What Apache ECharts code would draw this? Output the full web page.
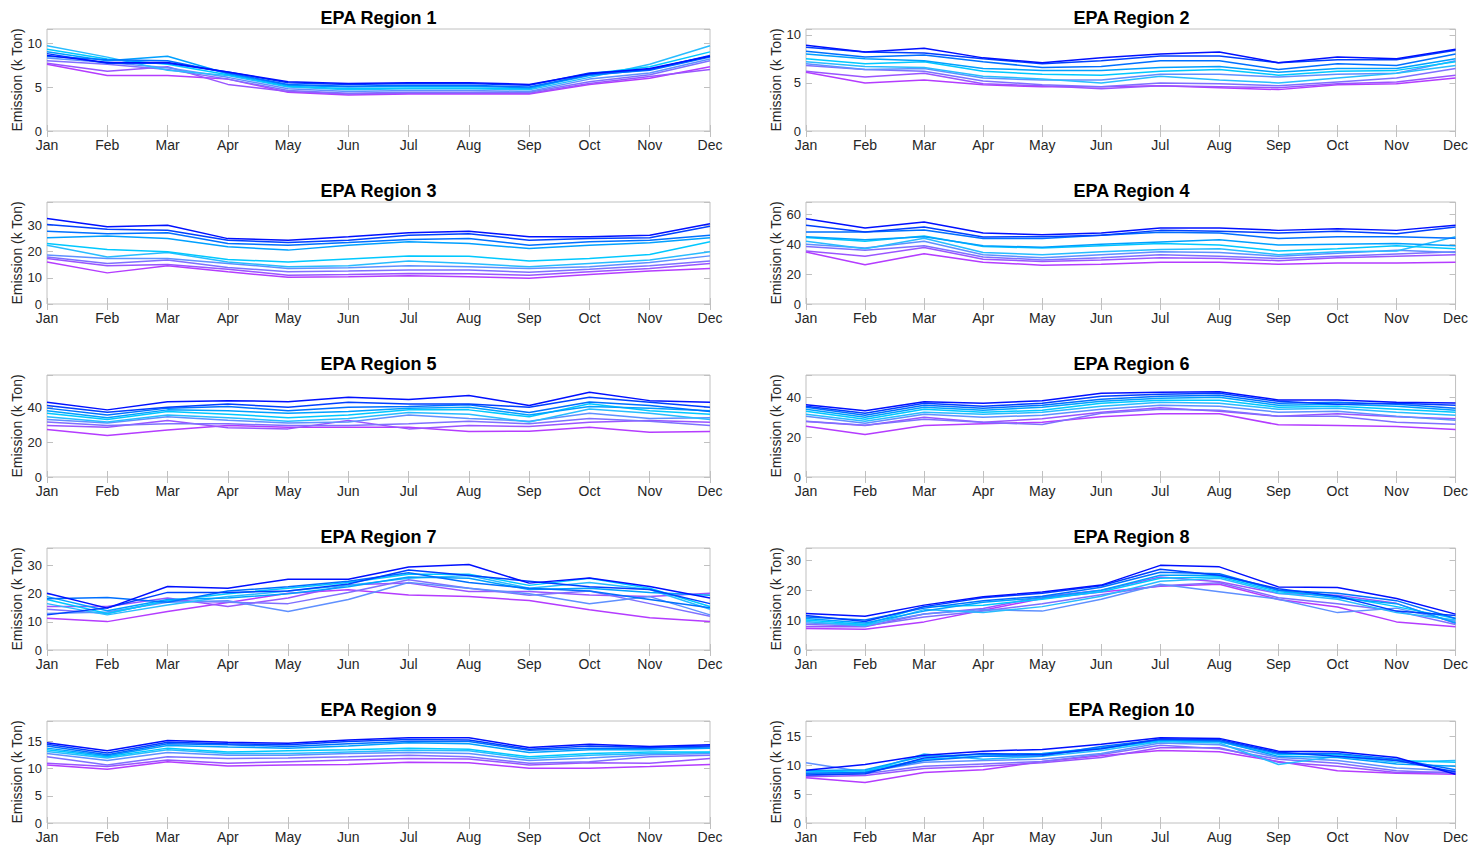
<!DOCTYPE html>
<html>
<head>
<meta charset="utf-8">
<script src="https://cdn.jsdelivr.net/npm/echarts@6/dist/echarts.min.js"></script>
<style>
html,body{margin:0;padding:0;background:#fff;}
#chart{width:1471px;height:845px;}
</style>
</head>
<body>
<div id="chart"></div>
<script>
const months = ['Jan','Feb','Mar','Apr','May','Jun','Jul','Aug','Sep','Oct','Nov','Dec'];
const regionTitles = ['EPA Region 1','EPA Region 2','EPA Region 3','EPA Region 4','EPA Region 5',
  'EPA Region 6','EPA Region 7','EPA Region 8','EPA Region 9','EPA Region 10'];
const yAxisName = 'Emission (k Ton)';
const yMax = [11.6, 10.6, 39, 68.3, 58.5, 51.2, 36.3, 34.1, 18.8, 17.6];
const yStep = [5, 5, 10, 20, 20, 20, 10, 10, 5, 5];
// line colours, from the purple end to the blue end of the palette
const lineColors = ['#b43cff','#9a55ff','#7f70ff','#5f90ff','#28bcff','#00c8ff','#00a0ff','#0070ff','#0040ff','#0010ff'];

const region1 = [
  [7.6, 6.3, 6.3, 5.9, 4.4, 4.1, 4.2, 4.2, 4.2, 5.3, 6.0, 7.3],
  [7.7, 6.8, 7.3, 5.3, 4.5, 4.2, 4.3, 4.3, 4.3, 5.4, 6.2, 7.0],
  [8.0, 7.6, 7.0, 5.9, 4.6, 4.3, 4.4, 4.4, 4.4, 5.6, 6.4, 8.0],
  [8.3, 7.8, 7.2, 6.1, 4.8, 4.5, 4.6, 4.6, 4.5, 5.9, 6.6, 8.2],
  [9.7, 8.4, 6.9, 6.3, 5.0, 4.7, 4.8, 4.8, 4.7, 6.1, 7.6, 9.7],
  [9.3, 8.2, 7.6, 6.4, 5.1, 4.8, 4.9, 4.9, 4.8, 6.5, 7.3, 9.0],
  [9.0, 8.0, 8.5, 6.5, 5.2, 5.0, 5.1, 5.1, 4.9, 6.3, 7.0, 8.5],
  [8.5, 8.1, 8.0, 6.6, 5.3, 5.1, 5.2, 5.2, 5.0, 6.4, 6.9, 8.4],
  [8.8, 7.7, 7.7, 6.7, 5.5, 5.3, 5.4, 5.4, 5.2, 6.6, 7.0, 8.6],
  [8.6, 7.8, 7.8, 6.7, 5.6, 5.4, 5.5, 5.5, 5.3, 6.5, 7.1, 8.5]
];
const region2 = [
  [6.1, 5.0, 5.3, 4.8, 4.6, 4.6, 4.7, 4.5, 4.3, 4.8, 4.9, 5.5],
  [6.2, 5.6, 6.0, 4.9, 4.7, 4.4, 4.7, 4.6, 4.5, 4.9, 5.1, 5.8],
  [6.8, 6.4, 6.2, 5.2, 4.8, 4.6, 5.0, 4.9, 4.7, 5.1, 5.5, 6.5],
  [7.0, 6.4, 6.5, 5.5, 5.3, 5.3, 5.9, 5.9, 5.6, 5.9, 6.0, 7.3],
  [7.2, 6.7, 6.6, 5.7, 5.4, 5.0, 5.7, 5.3, 5.0, 5.5, 6.0, 6.8],
  [7.5, 7.0, 7.2, 6.2, 5.9, 5.8, 6.2, 6.4, 5.8, 6.2, 6.3, 7.2],
  [8.0, 7.5, 7.3, 6.5, 6.3, 6.3, 6.6, 6.7, 6.1, 6.5, 6.5, 7.5],
  [8.3, 7.7, 7.9, 7.2, 6.6, 6.7, 7.3, 7.3, 6.4, 7.0, 6.8, 8.0],
  [8.7, 8.2, 8.1, 7.5, 7.0, 7.3, 7.8, 7.8, 7.1, 7.4, 7.4, 8.4],
  [8.9, 8.2, 8.6, 7.6, 7.1, 7.6, 8.0, 8.2, 7.1, 7.7, 7.5, 8.5]
];
const region3 = [
  [16.1, 11.9, 14.6, 12.3, 10.2, 10.4, 10.8, 10.4, 9.8, 11.3, 12.6, 13.6],
  [17.4, 14.6, 15.1, 13.3, 11.0, 11.3, 11.7, 11.6, 11.0, 12.3, 13.6, 15.5],
  [18.0, 15.5, 16.8, 14.0, 12.3, 12.6, 13.0, 13.0, 12.1, 13.3, 14.6, 16.4],
  [18.7, 17.4, 17.4, 15.5, 13.6, 13.9, 14.6, 14.2, 13.6, 14.2, 15.9, 18.4],
  [22.5, 18.0, 19.7, 16.1, 14.2, 14.6, 16.4, 15.5, 14.2, 15.5, 16.8, 20.0],
  [23.1, 20.8, 20.0, 17.0, 16.1, 17.2, 18.4, 18.3, 16.4, 17.4, 18.9, 23.8],
  [25.3, 26.0, 25.0, 21.9, 20.6, 22.5, 23.8, 23.1, 21.2, 22.5, 23.4, 25.3],
  [27.8, 26.9, 27.2, 23.1, 22.5, 23.5, 24.7, 25.0, 22.5, 23.8, 24.4, 26.3],
  [30.4, 28.6, 28.2, 24.4, 23.5, 24.4, 26.3, 26.9, 24.4, 25.0, 25.3, 29.7],
  [32.7, 29.5, 30.1, 25.0, 24.4, 25.7, 27.2, 27.8, 25.7, 25.7, 26.3, 30.7]
];
const region4 = [
  [34.8, 26.3, 33.7, 28.0, 26.0, 26.6, 28.0, 28.0, 26.6, 27.5, 27.5, 28.0],
  [35.5, 32.0, 37.9, 30.0, 28.5, 29.5, 31.0, 30.5, 29.0, 31.0, 32.0, 33.0],
  [38.5, 36.0, 39.0, 31.5, 29.5, 31.0, 33.0, 32.0, 30.5, 32.0, 33.5, 35.0],
  [40.0, 37.5, 42.0, 33.0, 31.0, 33.0, 35.0, 34.5, 32.0, 34.0, 36.0, 34.5],
  [42.0, 37.0, 44.0, 34.5, 33.0, 35.0, 36.5, 37.0, 33.0, 35.0, 35.5, 45.0],
  [44.5, 42.0, 45.5, 38.5, 37.5, 39.0, 40.5, 39.5, 35.5, 37.0, 39.0, 37.0],
  [45.0, 43.0, 45.0, 39.0, 38.0, 40.0, 41.5, 43.0, 39.5, 40.0, 40.5, 39.0],
  [48.2, 48.2, 49.5, 43.8, 43.8, 46.0, 48.0, 47.5, 43.8, 45.0, 45.0, 44.0],
  [52.7, 48.2, 51.6, 44.9, 45.0, 46.0, 49.3, 48.7, 47.5, 48.7, 47.0, 51.6],
  [57.1, 50.9, 54.9, 47.5, 46.4, 47.5, 50.9, 50.9, 49.3, 50.4, 49.3, 52.7]
];
const region5 = [
  [27.2, 23.8, 27.0, 29.5, 28.6, 28.6, 28.6, 26.1, 26.3, 28.6, 25.7, 26.1],
  [29.5, 28.6, 32.4, 28.2, 27.6, 32.4, 27.6, 29.5, 29.0, 31.4, 32.4, 31.4],
  [31.5, 29.5, 30.5, 30.5, 29.5, 29.5, 30.5, 32.0, 30.5, 33.5, 32.0, 29.5],
  [33.0, 31.0, 34.5, 32.5, 31.0, 31.5, 35.5, 33.5, 32.0, 36.5, 33.5, 34.0],
  [34.5, 31.5, 35.5, 34.0, 32.0, 33.5, 37.0, 36.0, 31.5, 39.0, 36.5, 33.0],
  [36.5, 33.0, 37.5, 36.0, 34.0, 35.5, 38.5, 38.5, 34.5, 42.0, 38.0, 36.0],
  [38.0, 34.0, 38.5, 38.0, 36.5, 37.5, 39.5, 40.0, 35.5, 40.5, 39.5, 38.0],
  [39.5, 35.5, 39.5, 40.5, 38.0, 40.0, 40.5, 41.5, 37.0, 43.0, 41.0, 37.5],
  [41.0, 37.1, 40.0, 41.9, 40.0, 42.9, 41.9, 41.9, 40.0, 45.7, 42.9, 40.0],
  [42.9, 38.5, 43.2, 43.8, 43.2, 45.7, 44.4, 46.7, 41.0, 48.6, 43.8, 42.9]
];
const region6 = [
  [25.5, 21.3, 25.8, 26.7, 27.5, 30.3, 31.7, 31.7, 26.2, 25.8, 25.3, 23.8],
  [27.8, 25.8, 30.0, 27.5, 29.2, 32.5, 34.7, 33.0, 30.5, 31.7, 30.3, 29.2],
  [28.0, 26.0, 29.0, 27.5, 26.3, 32.0, 34.0, 33.5, 30.5, 30.5, 27.5, 26.5],
  [30.5, 27.0, 31.5, 30.0, 31.0, 34.0, 36.0, 35.5, 32.5, 33.0, 30.5, 28.5],
  [31.5, 28.0, 32.5, 31.5, 32.5, 35.5, 37.5, 37.0, 34.0, 34.5, 32.5, 31.0],
  [33.0, 29.0, 34.0, 32.5, 33.5, 37.0, 38.5, 38.5, 35.0, 35.5, 34.0, 32.5],
  [34.0, 30.0, 35.0, 33.5, 35.0, 38.0, 39.5, 40.0, 36.0, 36.5, 35.5, 33.5],
  [35.0, 31.0, 36.0, 34.5, 36.0, 39.0, 40.5, 41.0, 37.0, 37.5, 36.5, 34.5],
  [35.5, 32.0, 37.0, 35.5, 37.0, 40.5, 41.5, 42.0, 38.0, 36.5, 37.0, 36.0],
  [36.3, 33.3, 37.8, 37.0, 38.3, 42.0, 42.5, 42.8, 38.7, 38.7, 37.5, 37.2]
];
const region7 = [
  [11.3, 10.1, 13.7, 16.9, 20.2, 21.4, 19.6, 19.0, 17.6, 14.3, 11.5, 10.1],
  [15.5, 15.5, 18.5, 15.5, 18.5, 23.2, 23.8, 20.8, 20.8, 19.6, 19.0, 20.2],
  [14.5, 13.0, 17.5, 17.0, 16.5, 20.5, 25.0, 22.0, 19.5, 21.0, 16.5, 12.0],
  [13.0, 13.5, 17.0, 17.5, 13.7, 18.0, 24.0, 22.0, 20.0, 16.5, 19.0, 12.5],
  [16.5, 12.5, 16.0, 19.0, 21.0, 23.0, 25.5, 26.5, 22.0, 24.0, 21.5, 14.5],
  [18.0, 13.0, 17.5, 20.0, 22.0, 24.0, 27.0, 27.0, 23.0, 25.5, 22.0, 15.5],
  [19.0, 14.0, 18.0, 18.5, 20.0, 22.5, 26.0, 25.5, 21.5, 22.0, 20.5, 19.5],
  [18.2, 18.7, 17.0, 21.0, 22.5, 24.5, 27.5, 24.0, 22.0, 21.0, 18.0, 15.0],
  [12.5, 15.0, 20.5, 20.5, 21.0, 23.5, 28.5, 26.5, 24.5, 22.5, 21.5, 16.5],
  [20.2, 14.9, 22.6, 22.0, 25.2, 25.2, 29.5, 30.4, 23.8, 25.6, 22.6, 18.5]
];
const region8 = [
  [7.2, 6.9, 9.4, 13.3, 17.2, 19.4, 21.3, 22.0, 16.9, 14.4, 9.4, 7.8],
  [7.8, 7.8, 12.0, 13.9, 17.8, 20.0, 24.4, 22.8, 18.9, 18.3, 15.6, 8.9],
  [8.5, 8.0, 11.0, 13.0, 15.5, 18.5, 21.5, 22.5, 17.5, 15.5, 13.0, 8.5],
  [9.0, 8.5, 12.0, 13.5, 13.0, 17.0, 22.0, 19.5, 17.0, 12.5, 14.0, 9.5],
  [9.5, 8.0, 13.5, 12.5, 14.5, 18.0, 23.0, 24.0, 19.0, 17.0, 12.5, 10.0],
  [10.0, 8.5, 14.5, 15.0, 17.0, 19.5, 24.0, 24.5, 19.5, 18.0, 14.5, 10.5],
  [10.5, 9.0, 13.0, 16.0, 17.5, 20.0, 25.0, 25.0, 20.0, 17.5, 15.5, 9.0],
  [11.0, 10.0, 14.0, 16.5, 18.0, 21.0, 26.0, 25.5, 20.0, 19.0, 16.5, 10.5],
  [11.5, 9.5, 14.5, 17.5, 19.0, 21.5, 27.0, 25.0, 20.5, 18.0, 13.0, 11.5],
  [12.2, 11.3, 15.0, 17.8, 19.4, 21.7, 28.3, 27.8, 21.1, 20.9, 17.2, 12.0]
];
const region9 = [
  [10.7, 9.9, 11.3, 10.5, 10.7, 10.8, 11.2, 11.1, 10.1, 10.1, 10.4, 10.8],
  [11.0, 10.4, 11.6, 11.0, 11.3, 11.6, 11.9, 11.8, 10.7, 11.1, 11.0, 11.9],
  [12.2, 10.7, 12.2, 11.9, 12.0, 12.2, 12.5, 12.2, 11.0, 11.3, 12.2, 12.5],
  [12.8, 11.5, 13.0, 12.5, 12.5, 12.8, 13.0, 12.8, 11.5, 12.0, 12.6, 12.8],
  [13.2, 12.0, 13.5, 12.8, 12.8, 13.1, 13.4, 13.3, 11.9, 12.5, 12.8, 13.0],
  [13.5, 12.2, 13.8, 13.1, 13.3, 13.5, 13.8, 13.6, 12.2, 12.8, 13.1, 13.1],
  [13.8, 12.4, 14.3, 14.0, 13.8, 14.2, 14.8, 14.6, 13.0, 13.5, 13.5, 13.8],
  [14.2, 12.6, 14.6, 14.4, 14.1, 14.6, 15.0, 15.0, 13.4, 13.8, 13.8, 14.0],
  [14.5, 12.9, 14.9, 14.6, 14.4, 15.0, 15.4, 15.3, 13.6, 14.2, 13.9, 14.2],
  [14.8, 13.3, 15.2, 14.9, 14.7, 15.3, 15.7, 15.7, 13.9, 14.5, 14.1, 14.4]
];
const region10 = [
  [7.8, 7.0, 8.7, 9.2, 10.6, 11.6, 12.5, 12.3, 10.6, 9.0, 8.6, 8.4],
  [8.0, 8.2, 9.4, 9.8, 10.4, 11.3, 13.0, 13.0, 10.5, 9.8, 8.7, 8.8],
  [8.2, 8.5, 9.8, 10.2, 10.6, 11.8, 13.4, 12.8, 11.0, 10.3, 9.0, 8.6],
  [10.4, 8.8, 10.5, 10.8, 11.0, 12.0, 13.8, 13.5, 11.3, 10.8, 9.5, 9.0],
  [8.5, 8.8, 11.9, 11.0, 11.5, 12.5, 14.0, 13.8, 10.1, 11.5, 10.5, 10.8],
  [8.8, 9.0, 11.0, 11.5, 11.8, 12.8, 14.2, 14.0, 11.8, 11.8, 10.8, 10.5],
  [9.0, 9.2, 11.5, 11.8, 12.0, 13.0, 14.3, 14.1, 11.5, 11.3, 10.2, 9.8],
  [8.6, 8.7, 10.8, 11.5, 11.6, 13.2, 14.4, 14.2, 12.0, 12.0, 11.0, 9.2],
  [8.3, 8.5, 11.2, 12.0, 11.8, 12.8, 14.5, 14.4, 12.2, 11.5, 10.8, 8.8],
  [9.1, 10.1, 11.7, 12.4, 12.7, 13.6, 14.7, 14.6, 12.4, 12.3, 11.3, 8.4]
];
const regions = [region1, region2, region3, region4, region5, region6, region7, region8, region9, region10];

// ---- layout ----
const FONT = '"Liberation Sans", Arial, Helvetica, sans-serif';
const colLeft = [47, 806];
const colWidth = [663, 651];
const rowTop = [29, 202, 375, 548, 721];
const plotH = 102;
const boxColor = '#c0c0c0';
const textColor = '#262626';

const grids = [], xAxes = [], yAxes = [], series = [], graphics = [];
regions.forEach((reg, i) => {
  const col = i % 2, row = Math.floor(i / 2);
  const left = colLeft[col], top = rowTop[row], width = colWidth[col];
  grids.push({left: left, top: top, width: width, height: plotH, show: true,
    borderColor: boxColor, borderWidth: 1, backgroundColor: 'transparent', containLabel: false});
  const step = yStep[i];
  xAxes.push({gridIndex: i, type: 'category', data: months, boundaryGap: false, position: 'bottom',
    axisLine: {show: false},
    axisTick: {show: true, inside: true, length: 6, interval: 0, lineStyle: {color: boxColor}},
    axisLabel: {show: true, interval: 0, color: textColor, fontSize: 14, lineHeight: 14,
      fontFamily: FONT, margin: 7},
    splitLine: {show: false}});
  xAxes.push({gridIndex: i, type: 'category', data: months, boundaryGap: false, position: 'top',
    axisLine: {show: false},
    axisTick: {show: true, inside: true, length: 6, interval: 0, lineStyle: {color: boxColor}},
    axisLabel: {show: false}, splitLine: {show: false}});
  yAxes.push({gridIndex: i, type: 'value', min: 0, max: yMax[i], interval: step, position: 'left',
    name: yAxisName, nameLocation: 'middle', nameGap: 22, nameRotate: 90,
    nameTextStyle: {color: textColor, fontSize: 14, fontFamily: FONT},
    axisLine: {show: false},
    axisTick: {show: true, inside: true, length: 6, lineStyle: {color: boxColor}},
    axisLabel: {color: textColor, fontSize: 13, lineHeight: 13, fontFamily: FONT, margin: 5,
      formatter: (v) => (Math.abs(v / step - Math.round(v / step)) < 1e-6 ? String(Math.round(v)) : '')},
    splitLine: {show: false}});
  yAxes.push({gridIndex: i, type: 'value', min: 0, max: yMax[i], interval: step, position: 'right',
    axisLine: {show: false},
    axisTick: {show: true, inside: true, length: 6, lineStyle: {color: boxColor}},
    axisLabel: {show: false}, splitLine: {show: false}});
  graphics.push({type: 'text', x: left + width / 2, y: top - 11,
    style: {text: regionTitles[i], font: 'bold 18px ' + FONT, fill: '#000',
      textAlign: 'center', textVerticalAlign: 'middle'}});
  reg.forEach((vals, k) => {
    series.push({type: 'line', xAxisIndex: 2 * i, yAxisIndex: 2 * i, data: vals,
      symbol: 'none', silent: true, animation: false,
      lineStyle: {width: 1.5, color: lineColors[k]}, itemStyle: {color: lineColors[k]}});
  });
});

const chart = echarts.init(document.getElementById('chart'), null, {renderer: 'svg'});
chart.setOption({
  animation: false,
  backgroundColor: '#ffffff',
  grid: grids, xAxis: xAxes, yAxis: yAxes, series: series,
  graphic: graphics
});
</script>
</body>
</html>
